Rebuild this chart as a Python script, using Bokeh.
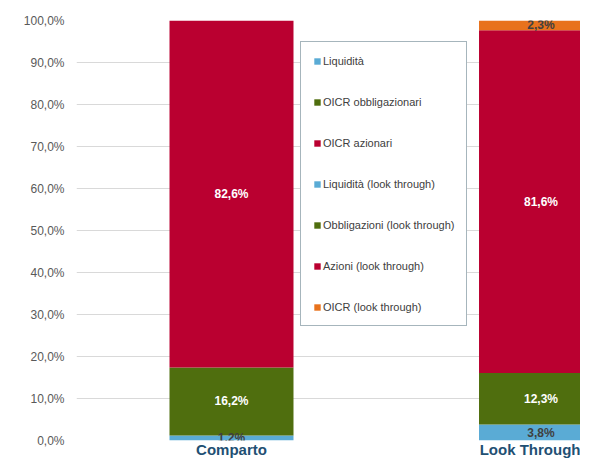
from bokeh.plotting import figure
from bokeh.models import Range1d, FixedTicker, ColumnDataSource, Legend
from bokeh.core.properties import value
from bokeh.embed import file_html
from bokeh.resources import INLINE

categories = ["Comparto", "Look Through"]
series = ["Liquidità", "OICR obbligazionari", "OICR azionari",
          "Liquidità (look through)", "Obbligazioni (look through)",
          "Azioni (look through)", "OICR (look through)"]
liquidita = [1.2, 0.0]
oicr_obbl = [16.2, 0.0]
oicr_az = [82.6, 0.0]
liq_lt = [0.0, 3.8]
obb_lt = [0.0, 12.3]
az_lt = [0.0, 81.6]
oicr_lt = [0.0, 2.3]
y_ticks = [0, 10, 20, 30, 40, 50, 60, 70, 80, 90, 100]
y_tick_labels = ["0,0%", "10,0%", "20,0%", "30,0%", "40,0%", "50,0%",
                 "60,0%", "70,0%", "80,0%", "90,0%", "100,0%"]
colors = ["#5aabd5", "#4f6e0e", "#ba0030", "#5aabd5", "#4f6e0e", "#ba0030", "#e8721c"]

xs = list(range(len(categories)))
keys = ["s%d" % i for i in range(len(series))]
values = [liquidita, oicr_obbl, oicr_az, liq_lt, obb_lt, az_lt, oicr_lt]
data = {"x": xs}
for k, v in zip(keys, values):
    data[k] = v
src = ColumnDataSource(data)

p = figure(width=580, height=460, output_backend="svg", toolbar_location=None,
           x_range=Range1d(-0.5008, 1.1276), y_range=Range1d(0, 100),
           min_border_left=76, min_border_right=0, min_border_top=20,
           min_border_bottom=0)
p.outline_line_color = None
p.background_fill_color = "white"
p.border_fill_color = "white"

renderers = p.vbar_stack(keys, x="x", width=0.4006, source=src, color=colors,
                         line_color=None)

# data labels
lx, ly, lt, lc = [], [], [], []
for ci in range(len(categories)):
    base = 0.0
    for v in values:
        val = v[ci]
        if val > 0:
            lx.append(xs[ci])
            ly.append(base + val / 2)
            lt.append(("%.1f" % val).replace(".", ",") + "%")
            lc.append("white" if val >= 5 else "#404040")
        base += val
p.text(x=lx, y=ly, text=lt, text_color=lc, text_align="center",
       text_baseline="middle", text_font=value("Liberation Sans"),
       text_font_size="12px", text_font_style="bold")

legend = Legend(items=[(s, [r]) for s, r in zip(series, renderers)],
                location=(224, 114))
legend.margin = 0
legend.padding = 12
legend.spacing = 28
legend.label_height = 13
legend.glyph_height = 8
legend.glyph_width = 8
legend.label_standoff = 2
legend.label_text_font = "Liberation Sans"
legend.label_text_font_size = "11px"
legend.label_text_color = "#404040"
legend.border_line_color = "#4d6b7a"
legend.border_line_width = 1
legend.background_fill_color = "white"
legend.background_fill_alpha = 1
p.add_layout(legend)

p.xgrid.grid_line_color = None
p.ygrid.grid_line_color = "#d9d9d9"
p.ygrid.ticker = FixedTicker(ticks=y_ticks)

p.yaxis.ticker = FixedTicker(ticks=y_ticks)
p.yaxis.major_label_overrides = {t: l for t, l in zip(y_ticks, y_tick_labels)}
p.yaxis.axis_line_color = None
p.yaxis.major_tick_line_color = None
p.yaxis.minor_tick_line_color = None
p.yaxis.major_tick_out = 0
p.yaxis.major_tick_in = 0
p.yaxis.minor_tick_out = 0
p.yaxis.major_label_standoff = 12
p.yaxis.major_label_text_font = "Liberation Sans"
p.yaxis.major_label_text_font_size = "12px"
p.yaxis.major_label_text_color = "#595959"

p.xaxis.ticker = FixedTicker(ticks=xs)
p.xaxis.major_label_overrides = {x: c for x, c in zip(xs, categories)}
p.xaxis.axis_line_color = None
p.xaxis.major_tick_line_color = None
p.xaxis.minor_tick_line_color = None
p.xaxis.major_tick_out = 0
p.xaxis.major_tick_in = 0
p.xaxis.minor_tick_out = 0
p.xaxis.major_label_standoff = 0
p.xaxis.major_label_text_font = "Liberation Sans"
p.xaxis.major_label_text_font_size = "15px"
p.xaxis.major_label_text_font_style = "bold"
p.xaxis.major_label_text_color = "#1f5073"

open("out.html", "w").write(file_html(p, INLINE))
